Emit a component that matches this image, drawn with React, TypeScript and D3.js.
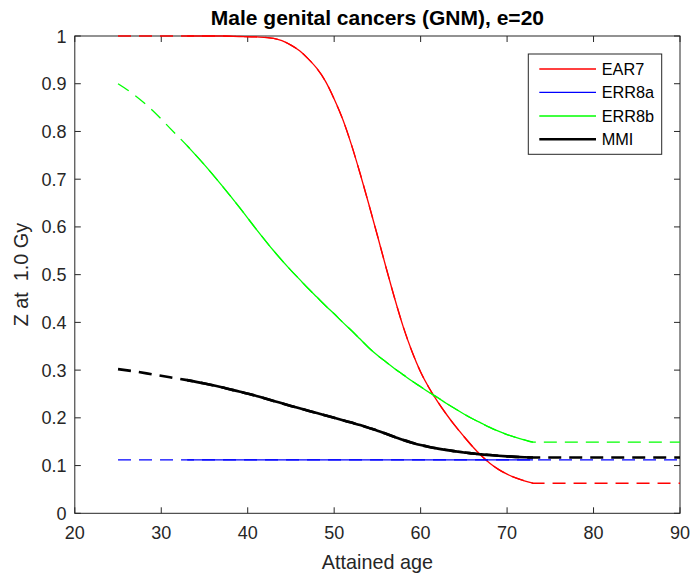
import React from 'react';
import * as d3 from 'd3';

const W = 691;
const H = 579;

const titleText = 'Male genital cancers (GNM), e=20';
const xLabelText = 'Attained age';
const yLabelText = 'Z at  1.0 Gy';

const xTicks = [20, 30, 40, 50, 60, 70, 80, 90];
const yTicks = [0, 0.1, 0.2, 0.3, 0.4, 0.5, 0.6, 0.7, 0.8, 0.9, 1];
const yTickLabels = ['0', '0.1', '0.2', '0.3', '0.4', '0.5', '0.6', '0.7', '0.8', '0.9', '1'];

const ages = [25, 27, 29, 31, 33, 35, 37, 39, 41, 43, 45, 46, 47, 48, 49, 50, 51, 52, 53, 54, 55, 56, 57, 58, 59, 60, 61, 62, 63, 64, 65, 66, 67, 68, 69, 70, 71, 72, 73, 90];

const ear7 = [1, 1, 1, 1, 1, 1, 1, 0.999, 0.998, 0.995, 0.981, 0.969, 0.952, 0.932, 0.905, 0.868, 0.825, 0.772, 0.712, 0.648, 0.582, 0.515, 0.45, 0.39, 0.339, 0.296, 0.262, 0.233, 0.207, 0.183, 0.161, 0.14, 0.121, 0.105, 0.092, 0.082, 0.074, 0.068, 0.063, 0.063];
const err8a = [0.112, 0.112, 0.112, 0.112, 0.112, 0.112, 0.112, 0.112, 0.112, 0.112, 0.112, 0.112, 0.112, 0.112, 0.112, 0.112, 0.112, 0.112, 0.112, 0.112, 0.112, 0.112, 0.112, 0.112, 0.112, 0.112, 0.112, 0.112, 0.112, 0.112, 0.112, 0.112, 0.112, 0.112, 0.112, 0.112, 0.112, 0.112, 0.112, 0.112];
const err8b = [0.9, 0.875, 0.844, 0.807, 0.77, 0.73, 0.687, 0.642, 0.595, 0.55, 0.509, 0.49, 0.471, 0.453, 0.435, 0.418, 0.4, 0.383, 0.365, 0.347, 0.331, 0.317, 0.303, 0.29, 0.277, 0.265, 0.253, 0.242, 0.23, 0.219, 0.208, 0.198, 0.189, 0.18, 0.172, 0.165, 0.159, 0.154, 0.149, 0.149];
const mmi = [0.302, 0.297, 0.291, 0.285, 0.279, 0.272, 0.264, 0.255, 0.246, 0.2355, 0.225, 0.22, 0.215, 0.21, 0.205, 0.2, 0.195, 0.19, 0.185, 0.179, 0.173, 0.1665, 0.16, 0.1535, 0.148, 0.143, 0.139, 0.1355, 0.1325, 0.13, 0.1275, 0.1255, 0.1235, 0.122, 0.1205, 0.1193, 0.1183, 0.1175, 0.1168, 0.1168];

const observedStart = 33;
const observedEnd = 73;

const seriesNames = ['EAR7', 'ERR8a', 'ERR8b', 'MMI'];
const seriesValues = [ear7, err8a, err8b, mmi];
const seriesColors = ['#ff0000', '#0000ff', '#00ff00', '#000000'];
const seriesWidths = [1.3, 1.3, 1.3, 2.6];

const FONT = '"Liberation Sans", Arial, Helvetica, sans-serif';
const AX = '#262626';

export default function App() {
  const left = 74.8;
  const right = 680;
  const top = 36;
  const bottom = 513.3;

  const x = d3.scaleLinear().domain([20, 90]).range([left, right]);
  const y = d3.scaleLinear().domain([0, 1]).range([bottom, top]);

  const line = d3
    .line<[number, number]>()
    .x((d) => x(d[0]))
    .y((d) => y(d[1]))
    .curve(d3.curveMonotoneX);

  const tickLen = 6;

  const legend = { x0: 528.3, y0: 54, x1: 661.7, y1: 154.3 };
  const legendRows = [69, 92.3, 116, 139.3];

  return (
    <svg
      width={W}
      height={H}
      style={{ position: 'absolute', left: 0, top: 0, background: '#fff' }}
      fontFamily={FONT}
    >
      <rect x={0} y={0} width={W} height={H} fill="#fff" />
      <rect x={left} y={top} width={right - left} height={bottom - top} fill="none" stroke={AX} strokeWidth={1} />
      {xTicks.map((t) => (
        <g key={'xt' + t}>
          <line x1={x(t)} x2={x(t)} y1={bottom} y2={bottom - tickLen} stroke={AX} strokeWidth={1} />
          <line x1={x(t)} x2={x(t)} y1={top} y2={top + tickLen} stroke={AX} strokeWidth={1} />
          <text x={x(t)} y={539} textAnchor="middle" fontSize={18} fill={AX}>
            {t}
          </text>
        </g>
      ))}
      {yTicks.map((t, i) => (
        <g key={'yt' + t}>
          <line x1={left} x2={left + tickLen} y1={y(t)} y2={y(t)} stroke={AX} strokeWidth={1} />
          <line x1={right} x2={right - tickLen} y1={y(t)} y2={y(t)} stroke={AX} strokeWidth={1} />
          <text x={66.5} y={y(t) + 6.5} textAnchor="end" fontSize={18} fill={AX}>
            {yTickLabels[i]}
          </text>
        </g>
      ))}
      <text x={(left + right) / 2} y={569} textAnchor="middle" fontSize={19.8} fill={AX}>
        {xLabelText}
      </text>
      <text
        transform={`translate(28.3, ${(top + bottom) / 2}) rotate(-90)`}
        textAnchor="middle"
        fontSize={19.8}
        fill={AX}
        style={{ whiteSpace: 'pre' }}
      >
        {yLabelText}
      </text>
      <text x={(left + right) / 2} y={25} textAnchor="middle" fontSize={21} fontWeight="bold" fill="#000">
        {titleText}
      </text>

      {seriesValues.map((vals, si) => {
        const all: [number, number][] = ages.map((a, i) => [a, vals[i]]);
        const obs = all.filter((d) => d[0] >= observedStart && d[0] <= observedEnd);
        const w = seriesWidths[si];
        return (
          <g key={seriesNames[si]}>
            <path d={line(all) || ''} fill="none" stroke={seriesColors[si]} strokeWidth={w} strokeDasharray="13,8" />
            <path d={line(obs) || ''} fill="none" stroke={seriesColors[si]} strokeWidth={w} />
          </g>
        );
      })}

      <rect
        x={legend.x0}
        y={legend.y0}
        width={legend.x1 - legend.x0}
        height={legend.y1 - legend.y0}
        fill="#fff"
        stroke={AX}
        strokeWidth={1}
      />
      {seriesNames.map((n, i) => (
        <g key={'lg' + n}>
          <line
            x1={539.3}
            x2={596}
            y1={legendRows[i]}
            y2={legendRows[i]}
            stroke={seriesColors[i]}
            strokeWidth={seriesWidths[i]}
          />
          <text x={601.7} y={legendRows[i] + 6} fontSize={16.3} fill="#000">
            {n}
          </text>
        </g>
      ))}
    </svg>
  );
}
